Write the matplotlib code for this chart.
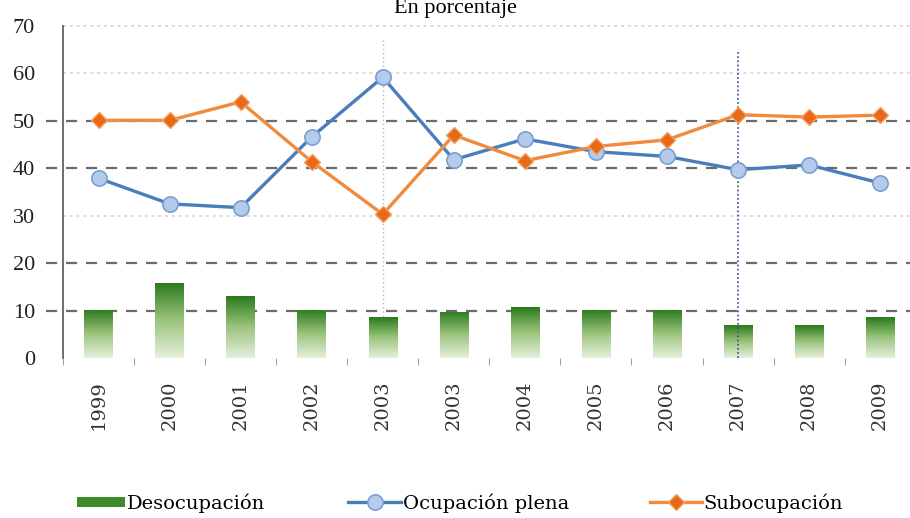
import numpy as np
import matplotlib.pyplot as plt
from matplotlib.lines import Line2D
from matplotlib.patches import Patch
from matplotlib.colors import LinearSegmentedColormap

# --- data ---
years = ["1999", "2000", "2001", "2002", "2003", "2003", "2004",
         "2005", "2006", "2007", "2008", "2009"]
desocupacion = [10.2, 15.8, 13.0, 10.2, 8.6, 9.7, 10.7, 10.2, 10.2, 6.9, 6.9, 8.6]
ocupacion_plena = [37.9, 32.5, 31.7, 46.6, 59.2, 41.8, 46.2, 43.5, 42.5, 39.7, 40.7, 36.9]
subocupacion = [50.1, 50.1, 54.0, 41.4, 30.3, 47.0, 41.6, 44.6, 46.0, 51.3, 50.8, 51.2]
yticks = [0, 10, 20, 30, 40, 50, 60, 70]

serif = "Liberation Serif"
wide_serif = "DejaVu Serif"
W, H = 910, 518

fig = plt.figure(figsize=(W / 100, H / 100), dpi=100)
ax = fig.add_axes([63 / W, 1 - 358 / H, 1 - 63 / W, (358 - 26) / H])

x = np.arange(len(years))
ax.set_xlim(-0.5, 11.42)
ax.set_ylim(0, 70)

# gridlines: dark dashed on some, faint dotted on others
trans = ax.get_yaxis_transform()
for v in [10, 20, 40, 50]:
    ax.plot([-0.02, 1], [v, v], transform=trans, color="#6b6b6b", lw=1.6,
            dashes=(5, 4), clip_on=False, zorder=1)
for v in [30, 60, 70]:
    ax.plot([0, 1], [v, v], transform=trans, color="#dadada", lw=1.4,
            dashes=(1.5, 2), clip_on=False, zorder=1)

# vertical markers (methodology changes)
ax.plot([4, 4], [0, 67], color="#9dbbe6", lw=1.0, ls=(0, (1, 2)), zorder=2)
ax.plot([9, 9], [0, 65], color="#2d4d8c", lw=1.2, ls=(0, (1, 1.5)), zorder=5)

# gradient bars
bar_w = 0.4
grad = np.linspace(0, 1, 256).reshape(-1, 1)
cmap = LinearSegmentedColormap.from_list("g", ["#e6f0dd", "#9cc47e", "#2a7a1c"])
bars = ax.bar(x, desocupacion, width=bar_w, color="none", zorder=3)
for b in bars:
    bx, by = b.get_x(), b.get_y()
    bw, bh = b.get_width(), b.get_height()
    im = ax.imshow(grad, cmap=cmap, origin="lower", aspect="auto",
                   extent=[bx, bx + bw, by, by + bh], zorder=3)
    im.set_clip_path(b)

# lines
blue_kw = dict(color="#4a7dbb", lw=2.4, marker="o", ms=11,
               mfc="#b4cbec", mec="#7a9fd4", mew=1.2)
orange_kw = dict(color="#f08a3c", lw=2.4, marker="D", ms=8,
                 mfc="#e8691a", mec="#f5a060", mew=1.0)
ax.plot(x, ocupacion_plena, zorder=6, **blue_kw)
ax.plot(x, subocupacion, zorder=6, **orange_kw)

# axes styling
for s in ["top", "right", "bottom"]:
    ax.spines[s].set_visible(False)
ax.spines["left"].set_color("#555555")
ax.spines["left"].set_linewidth(1.2)
ax.set_yticks(yticks)
ax.set_yticklabels([str(v) for v in yticks], fontsize=16, family=serif, color="#222222")
ax.tick_params(axis="y", length=0, pad=20)
ax.set_xticks(x)
ax.set_xticklabels(years, rotation=90, fontsize=14, family=wide_serif, color="#333333")
ax.tick_params(axis="x", length=0, pad=16)
ax.set_xticks(np.arange(-0.5, 11.5, 1), minor=True)
ax.tick_params(axis="x", which="minor", length=5, color="#888888", direction="out")
ax.patch.set_visible(False)

# title
fig.text(0.5, 1 - 13 / H, "En porcentaje", ha="center", va="baseline",
         fontsize=16, family=serif)

# legend, one entry at a time so each sits where the reference has it
entries = [
    (Patch(facecolor="#3d8a2c", edgecolor="none"), "Desocupación", 77, 2.45, 0.4),
    (Line2D([], [], **blue_kw), "Ocupación plena", 348, 2.75, 0.7),
    (Line2D([], [], **orange_kw), "Subocupación", 650, 2.65, 0.7),
]
for handle, label, px, hl, hh in entries:
    fig.legend([handle], [label], loc="center left",
               bbox_to_anchor=(px / W, 1 - 503 / H), frameon=False,
               prop={"family": wide_serif, "size": 14}, handlelength=hl,
               handleheight=hh, handletextpad=0.1, borderpad=0, borderaxespad=0)

fig.savefig("out.png", dpi=100)
